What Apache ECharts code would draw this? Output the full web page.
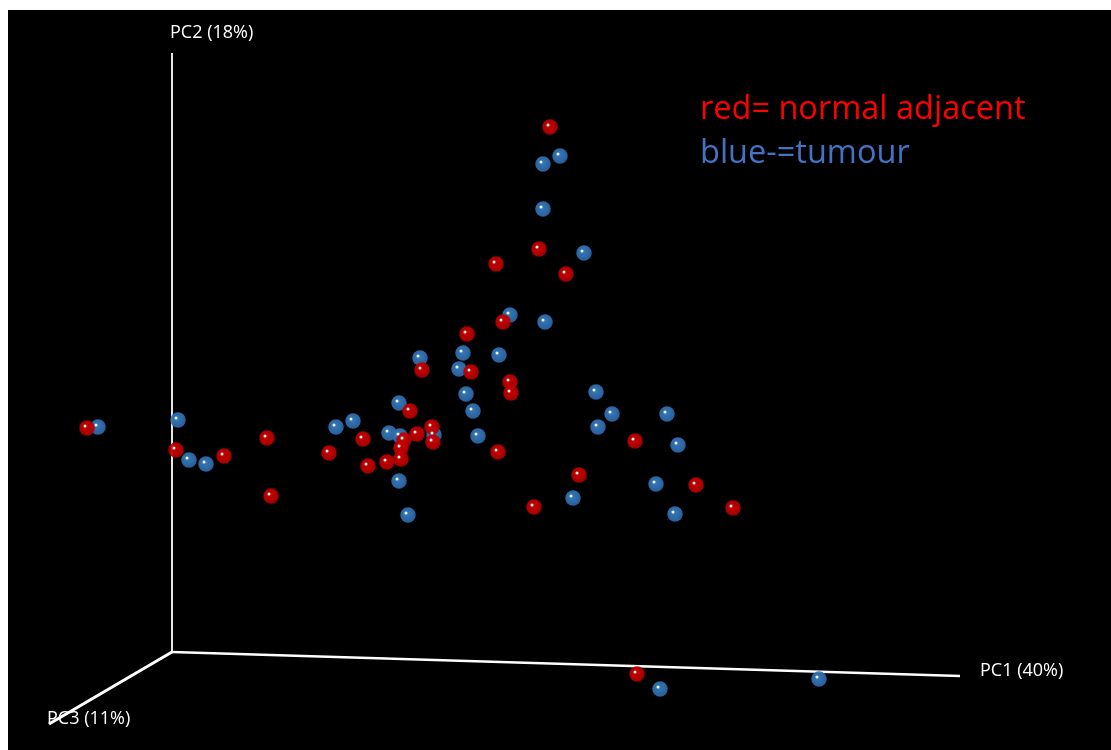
<!DOCTYPE html>
<html>
<head>
<meta charset="utf-8">
<script src="https://cdn.jsdelivr.net/npm/echarts@6/dist/echarts.min.js"></script>
<style>
html,body{margin:0;padding:0;background:#fff;}
#c{width:1111px;height:750px;}
</style>
</head>
<body>
<div id="c"></div>
<script>
// Projected positions of samples (screen-projection units)
const normalAdjacent = [
  [87,428],[550,127],[496,264],[539,249],[566,274],[503,322],[467,334],[422,370],
  [471,372],[510,382],[511,393],[410,411],[432,427],[417,434],[433,442],[404,440],
  [401,448],[401,459],[387,462],[363,439],[368,466],[329,453],[267,438],[224,456],
  [176,450],[271,496],[498,452],[579,475],[534,507],[635,441],[696,485],[733,508],
  [637,674]
];
const tumour = [
  [98,427],[178,420],[189,460],[206,464],[336,427],[353,421],[399,403],[389,433],
  [400,436],[434,435],[399,481],[408,515],[420,358],[463,353],[459,369],[466,394],
  [473,411],[478,436],[499,355],[510,315],[545,322],[543,209],[543,164],[560,156],
  [584,253],[596,392],[612,414],[598,427],[667,414],[678,445],[656,484],[675,514],
  [573,498],[660,689],[819,679]
];
// 3D axes (projected): origin and the end of each axis
const axisOrigin = [172,652];
const axisEnds = { PC1:[960,676], PC2:[172,53], PC3:[49,724] };
const axisLabels = ['PC1 (40%)','PC2 (18%)','PC3 (11%)'];
const legendTexts = ['red= normal adjacent','blue-=tumour'];

const chart = echarts.init(document.getElementById('c'), null, {renderer:'canvas'});

function sphere(c0, c1){
  return new echarts.graphic.RadialGradient(0.45,0.42,0.62,[
    {offset:0,color:c0},{offset:1,color:c1}
  ]);
}
function axisSeries(name, end, w){
  return {
    type:'line', name:name, data:[axisOrigin, end], symbol:'none', silent:true,
    lineStyle:{color:'#ffffff', width:w}, z:1, animation:false
  };
}
function highlight(data){
  return {
    type:'scatter', data:data, symbol:'circle', symbolSize:3,
    symbolOffset:[-2,-2], itemStyle:{color:'#ffffff', opacity:0.95}, z:5, silent:true
  };
}
const font = '"Open Sans", "DejaVu Sans", sans-serif';

chart.setOption({
  backgroundColor:'#ffffff',
  animation:false,
  grid:{left:0,right:0,top:0,bottom:0},
  xAxis:{type:'value',min:0,max:1111,show:false},
  yAxis:{type:'value',min:0,max:750,inverse:true,show:false},
  graphic:[
    {type:'rect', shape:{x:8,y:10,width:1103,height:740}, style:{fill:'#000000'}, z:-10, silent:true},
    {type:'text', left:170, top:24, style:{text:axisLabels[1], fill:'#ffffff', font:'18px '+font}},
    {type:'text', left:980, top:662, style:{text:axisLabels[0], fill:'#ffffff', font:'18px '+font}},
    {type:'text', left:47, top:710, style:{text:axisLabels[2], fill:'#ffffff', font:'18px '+font}},
    {type:'text', left:700, top:93, style:{text:legendTexts[0], fill:'#ff0000', font:'32.5px '+font}},
    {type:'text', left:700, top:137, style:{text:legendTexts[1], fill:'#4472c4', font:'32.5px '+font}}
  ],
  series:[
    axisSeries('PC2', axisEnds.PC2, 1.8),
    axisSeries('PC1', axisEnds.PC1, 2.5),
    axisSeries('PC3', axisEnds.PC3, 3),
    {type:'scatter', name:'tumour', data:tumour, symbol:'circle', symbolSize:15.5,
     itemStyle:{color:sphere('#3a82c4','#2a64a4'), opacity:0.93}, z:3},
    {type:'scatter', name:'normal adjacent', data:normalAdjacent, symbol:'circle', symbolSize:15.5,
     itemStyle:{color:sphere('#d80000','#a80000'), opacity:0.93}, z:4},
    highlight(tumour),
    highlight(normalAdjacent)
  ]
});
</script>
</body>
</html>
